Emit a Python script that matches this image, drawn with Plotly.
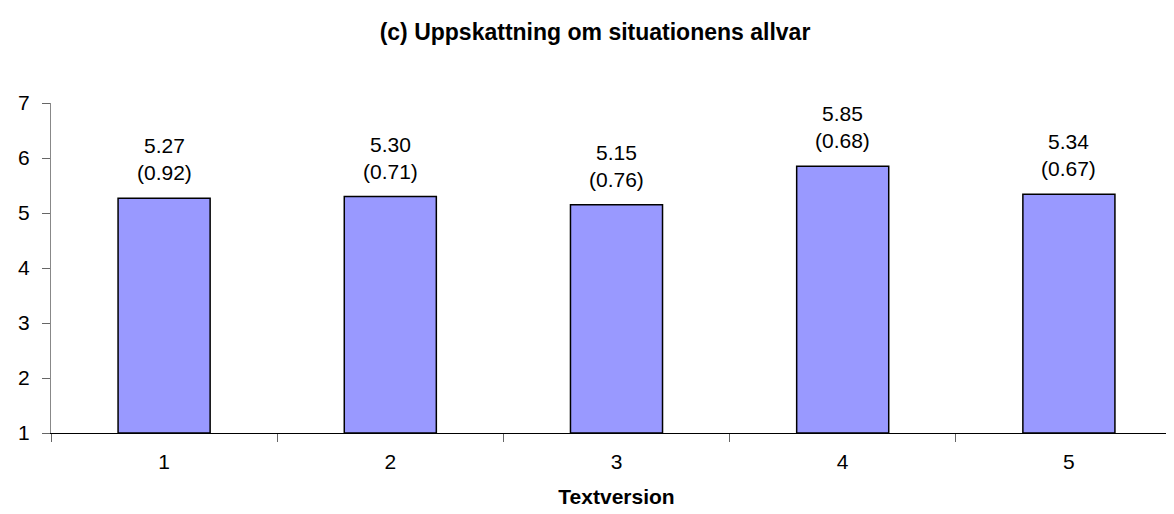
import plotly.graph_objects as go

categories = ["1", "2", "3", "4", "5"]
means = [5.27, 5.30, 5.15, 5.85, 5.34]
sds = [0.92, 0.71, 0.76, 0.68, 0.67]
y_ticks = [1, 2, 3, 4, 5, 6, 7]

FONT = "Arial, Liberation Sans, sans-serif"

fig = go.Figure()
fig.add_trace(go.Bar(
    x=categories, y=[m - 1 for m in means], base=1,
    marker=dict(color="#9999FF", line=dict(color="black", width=1.5)),
    width=0.407, hoverinfo="skip",
))
for i, (m, s) in enumerate(zip(means, sds)):
    fig.add_annotation(x=i, y=m, xref="x", yref="y",
                       text=f"{m:.2f}<br>({s:.2f})", showarrow=False,
                       yanchor="bottom", yshift=12,
                       font=dict(family=FONT, size=21, color="black"))

fig.update_layout(
    width=1174, height=514,
    margin=dict(l=43, r=0, t=95, b=89),
    paper_bgcolor="white", plot_bgcolor="white",
    showlegend=False,
    title=dict(text="<b>(c) Uppskattning om situationens allvar</b>", x=0.5, xanchor="center",
               y=1 - 24 / 514, yanchor="middle",
               font=dict(family=FONT, size=23, color="black")),
    font=dict(family=FONT, size=20, color="black"),
)
fig.update_xaxes(
    type="category", showline=True, linecolor="black", linewidth=1.2,
    ticks="outside", tickson="boundaries", ticklen=8, tickcolor="#666",
    showgrid=False, tickfont=dict(size=21), ticklabelstandoff=10,
    title=dict(text="<b>Textversion</b>", font=dict(size=21), standoff=17),
)
fig.update_yaxes(
    range=[1, 7], tickvals=y_ticks, showline=True, linecolor="#888", linewidth=1,
    ticks="outside", ticklen=8, tickcolor="#666", showgrid=False, zeroline=False,
    tickfont=dict(size=21), ticklabelstandoff=8,
)
fig.write_html("out.html")
